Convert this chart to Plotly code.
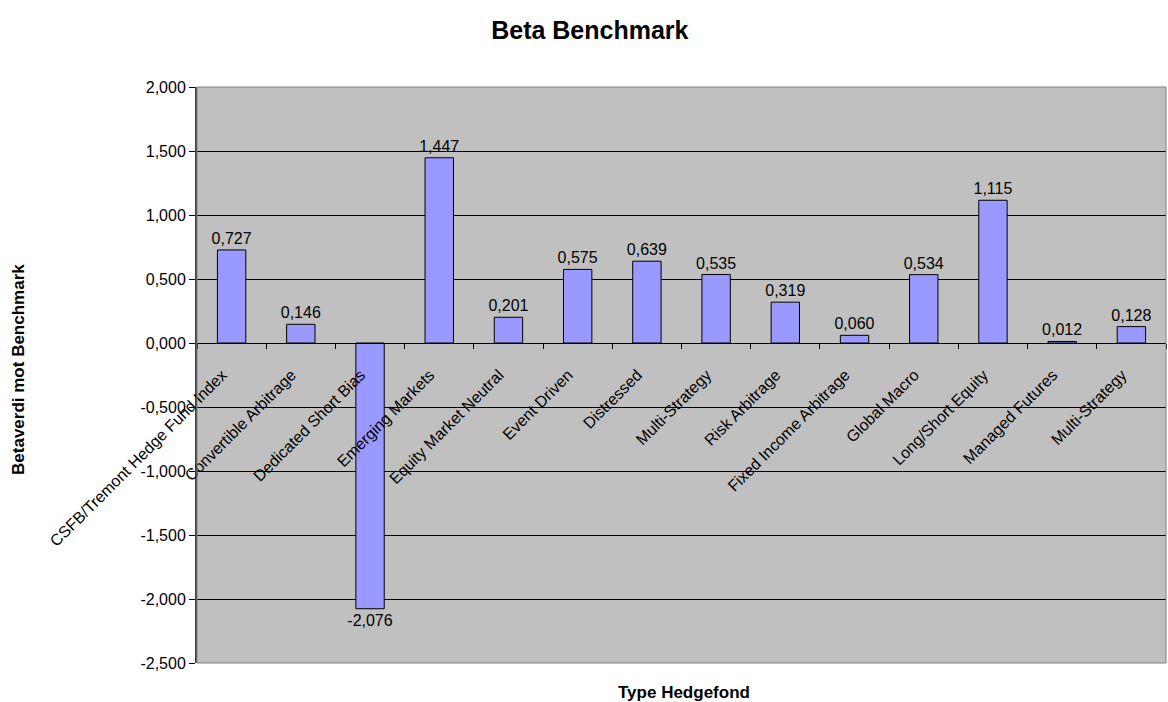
import plotly.graph_objects as go

categories = ["CSFB/Tremont Hedge Fund Index", "Convertible Arbitrage", "Dedicated Short Bias",
              "Emerging Markets", "Equity Market Neutral", "Event Driven", "Distressed",
              "Multi-Strategy", "Risk Arbitrage", "Fixed Income Arbitrage", "Global Macro",
              "Long/Short Equity", "Managed Futures", "Multi-Strategy"]
values = [0.727, 0.146, -2.076, 1.447, 0.201, 0.575, 0.639, 0.535, 0.319, 0.060, 0.534, 1.115, 0.012, 0.128]
y_ticks = [2.0, 1.5, 1.0, 0.5, 0.0, -0.5, -1.0, -1.5, -2.0, -2.5]


def fmt(v):
    return f"{v:.3f}".replace(".", ",")


idx = list(range(len(categories)))
ymin, ymax = -2.5, 2.0
zero_pos = (0 - ymin) / (ymax - ymin)
font = "Liberation Sans, Arial, sans-serif"
pad = "\u00a0\u00a0\u00a0"

fig = go.Figure()
fig.add_trace(go.Bar(
    x=idx, y=values, width=0.41,
    marker=dict(color="#9999FF", line=dict(color="black", width=1)),
    text=[fmt(v) for v in values], texttemplate="%{text}", textposition="outside",
    constraintext="none",
    textfont=dict(family=font, size=16, color="black"),
    cliponaxis=False, showlegend=False,
))
# invisible trace for boundary tick marks axis
fig.add_trace(go.Scatter(x=[-0.5, 13.5], y=[0, 0], xaxis="x2", mode="markers",
                         marker=dict(opacity=0), showlegend=False, hoverinfo="skip"))

fig.update_layout(
    width=1168, height=702,
    margin=dict(l=197, r=2, t=87, b=39),
    paper_bgcolor="white", plot_bgcolor="#C0C0C0",
    font=dict(family=font, size=16, color="black"),
    title=dict(text="<b>Beta Benchmark</b>", x=0.505, xref="container", y=0.957, yref="container",
               xanchor="center", yanchor="middle", font=dict(size=25, family=font)),
    xaxis=dict(range=[-0.5, 13.5], tickvals=idx, ticktext=[c + pad for c in categories],
               tickangle=-45,
               ticks="", showgrid=False, zeroline=False, anchor="free", position=zero_pos,
               showline=True, linecolor="black", linewidth=1, ticklabelstandoff=6,
               tickfont=dict(family=font, size=16, color="black")),
    xaxis2=dict(range=[-0.5, 13.5], overlaying="x", anchor="free", position=zero_pos,
                tickvals=[i + 0.5 for i in range(-1, 14)], ticks="outside", ticklen=5,
                tickcolor="black", showticklabels=False, showgrid=False, zeroline=False,
                showline=False),
    yaxis=dict(range=[ymin, ymax], tickvals=y_ticks, ticktext=[fmt(v) for v in y_ticks],
               ticks="outside", ticklen=6, tickcolor="black",
               showgrid=True, gridcolor="black", gridwidth=1,
               zeroline=True, zerolinecolor="black", zerolinewidth=1,
               showline=True, linecolor="#404040", linewidth=2, mirror=False,
               tickfont=dict(family=font, size=16, color="black")),
    shapes=[dict(type="rect", xref="paper", yref="paper", x0=0, x1=1, y0=0, y1=1,
                 line=dict(color="#808080", width=1), fillcolor="rgba(0,0,0,0)", layer="above")],
    annotations=[
        dict(text="<b>Betaverdi mot Benchmark</b>", xref="paper", yref="paper",
             x=-0.184, y=0.51, textangle=-90, showarrow=False, xanchor="center", yanchor="middle",
             font=dict(family=font, size=17, color="black")),
        dict(text="<b>Type Hedgefond</b>", xref="paper", yref="paper",
             x=0.503, y=-0.052, showarrow=False, xanchor="center", yanchor="middle",
             font=dict(family=font, size=17, color="black")),
    ],
)

fig.write_html("out.html")
